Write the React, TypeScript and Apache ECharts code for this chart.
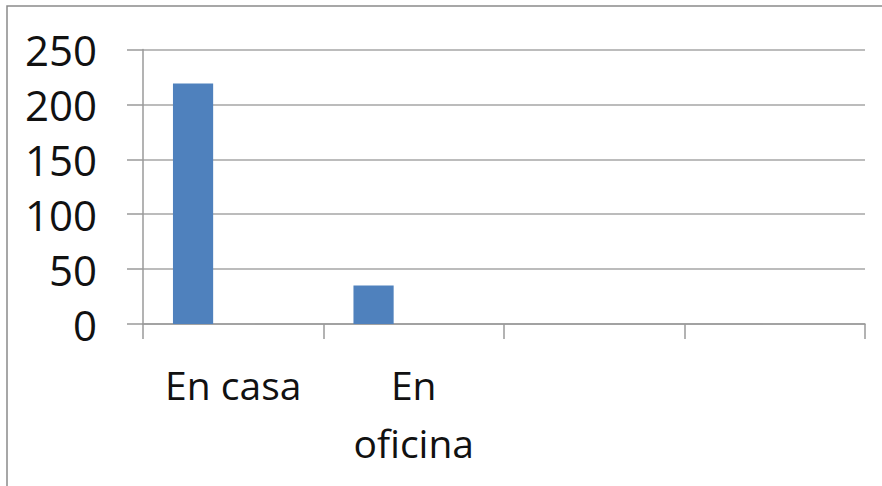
import React, { useEffect, useRef } from "react";
import * as echarts from "echarts";

const categories = ["En casa", "En\noficina", "", ""];
const series1 = [219, 35, null, null];
const series2 = [null, null, null, null];
const series3 = [null, null, null, null];
const yTicks = { min: 0, max: 250, interval: 50 };

export default function App() {
  const ref = useRef<HTMLDivElement>(null);
  useEffect(() => {
    if (!ref.current) return;
    const chart = echarts.init(ref.current, undefined, { renderer: "svg" });
    const font = "'Open Sans', 'Noto Sans', sans-serif";
    chart.setOption({
      animation: false,
      backgroundColor: "#ffffff",
      grid: { left: 143, right: 17, top: 49.5, bottom: 162, containLabel: false },
      graphic: [
        {
          type: "rect",
          shape: { x: 7, y: 6, width: 900, height: 520 },
          style: { fill: "none", stroke: "#8a8a8a", lineWidth: 1.5 },
          silent: true,
        },
      ],
      xAxis: {
        type: "category",
        data: categories,
        boundaryGap: true,
        axisLine: { show: true, lineStyle: { color: "#9a9a9a", width: 1.5 } },
        axisTick: { show: true, length: 15, lineStyle: { color: "#9a9a9a", width: 1.5 } },
        axisLabel: {
          color: "#111",
          fontFamily: font,
          fontSize: 39,
          lineHeight: 58,
          margin: 31,
          interval: 0,
        },
        splitLine: { show: false },
      },
      yAxis: {
        type: "value",
        min: yTicks.min,
        max: yTicks.max,
        interval: yTicks.interval,
        axisLine: { show: true, lineStyle: { color: "#9a9a9a", width: 1.5 } },
        axisTick: { show: true, length: 16, lineStyle: { color: "#9a9a9a", width: 1.5 } },
        axisLabel: {
          color: "#111",
          fontFamily: font,
          fontSize: 42,
          margin: 46,
        },
        splitLine: { show: true, lineStyle: { color: "#a6a6a6", width: 1.5 } },
      },
      series: [
        { type: "bar", data: series1, itemStyle: { color: "#4F81BD" }, barGap: "0%", barCategoryGap: "33.2%" },
        { type: "bar", data: series2, itemStyle: { color: "#C0504D" } },
        { type: "bar", data: series3, itemStyle: { color: "#9BBB59" } },
      ],
    });
    return () => chart.dispose();
  }, []);
  return (
    <div
      ref={ref}
      style={{ position: "fixed", left: 0, top: 0, width: 882, height: 486 }}
    />
  );
}
